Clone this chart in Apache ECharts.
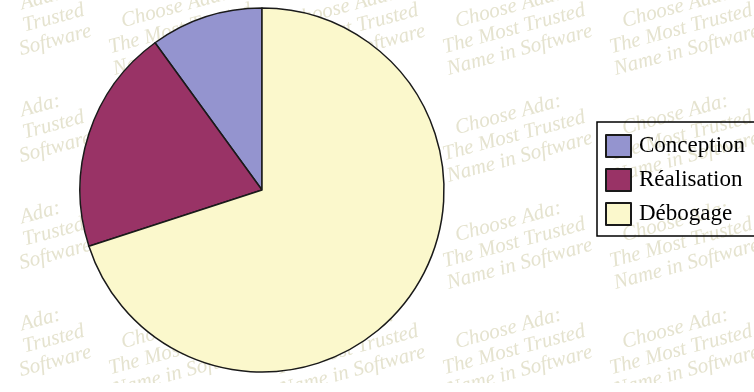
<!DOCTYPE html>
<html>
<head>
<meta charset="utf-8">
<script src="https://cdn.jsdelivr.net/npm/echarts@6/dist/echarts.min.js"></script>
<style>
html,body{margin:0;padding:0;background:#fff;}
#chart{width:754px;height:392px;}
</style>
</head>
<body>
<div id="chart"></div>
<script>
var categories = ['Conception', 'Réalisation', 'Débogage'];
var values = [10, 20, 70];
var colors = ['#9494cf', '#993366', '#fbf8cc'];
var watermarkText = 'Choose Ada:\nThe Most Trusted\nName in Software';

var chart = echarts.init(document.getElementById('chart'), null, {renderer: 'canvas'});

var graphics = [];
var colsX = [13, 180, 347, 514, 681];
var rowsY = [29, 136, 243, 350];
colsX.forEach(function (cx) {
  rowsY.forEach(function (cy) {
    graphics.push({
      type: 'text',
      x: cx, y: cy,
      rotation: 15 * Math.PI / 180,
      z: 0,
      silent: true,
      style: {
        text: watermarkText,
        fill: '#e5e3cf',
        font: 'italic 21px "Liberation Serif", serif',
        align: 'center',
        verticalAlign: 'middle',
        lineHeight: 22
      }
    });
  });
});
graphics.push({type: 'rect', z: 1, silent: true, shape: {x: 0, y: 0, width: 20, height: 392}, style: {fill: '#fff'}});
graphics.push({type: 'rect', z: 1, silent: true, shape: {x: 0, y: 383, width: 754, height: 9}, style: {fill: '#fff'}});

chart.setOption({
  animation: false,
  backgroundColor: '#fff',
  graphic: graphics,
  legend: {
    orient: 'vertical',
    left: 597,
    top: 122,
    padding: [12, 40, 10, 8],
    itemWidth: 25,
    itemHeight: 22,
    itemGap: 10,
    icon: 'rect',
    borderColor: '#000',
    borderWidth: 1.5,
    borderRadius: 0,
    backgroundColor: 'transparent',
    selectedMode: false,
    textStyle: {
      fontFamily: '"Liberation Serif", serif',
      fontSize: 23,
      lineHeight: 22,
      color: '#000',
      padding: [0, 0, 0, 3]
    },
    data: categories
  },
  series: [{
    type: 'pie',
    center: [262, 190],
    radius: 182,
    startAngle: 90,
    clockwise: false,
    z: 3,
    label: {show: false},
    labelLine: {show: false},
    emphasis: {disabled: true},
    itemStyle: {borderColor: '#1a1a1a', borderWidth: 1.5},
    data: categories.map(function (c, i) {
      return {name: c, value: values[i], itemStyle: {color: colors[i]}};
    })
  }]
});
</script>
</body>
</html>
